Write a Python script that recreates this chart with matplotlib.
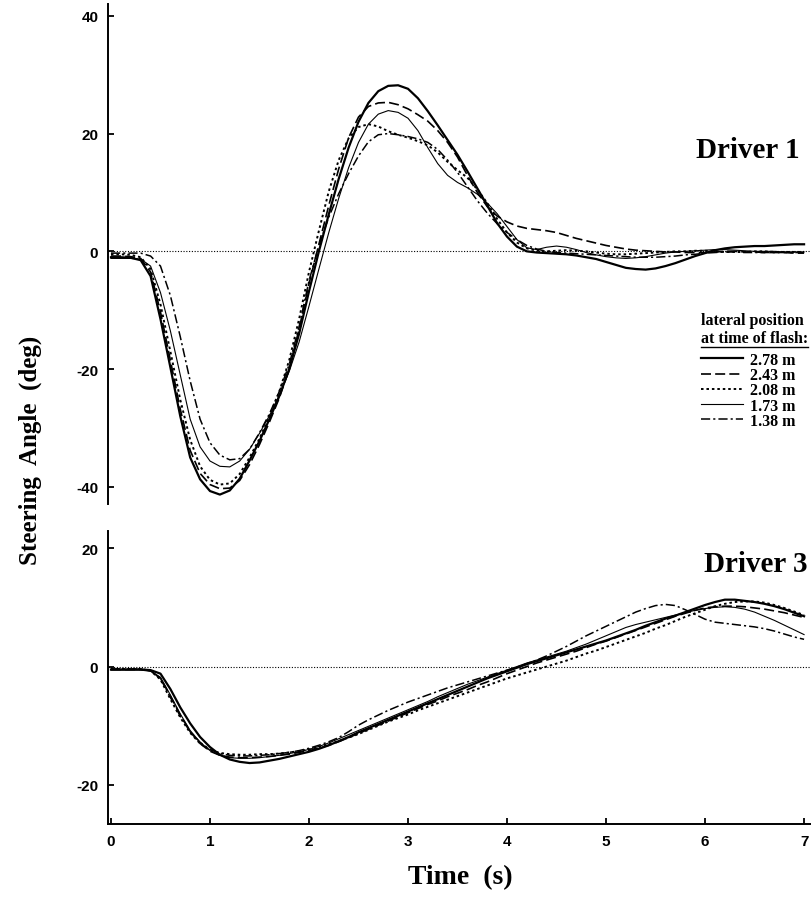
import matplotlib
matplotlib.use("Agg")
import matplotlib.pyplot as plt
from matplotlib.lines import Line2D

plt.rcParams["axes.unicode_minus"] = False

# time grid (s)
t = [0.0, 0.1, 0.2, 0.3, 0.4, 0.5, 0.6, 0.7, 0.8, 0.9,
     1.0, 1.1, 1.2, 1.3, 1.4, 1.5, 1.6, 1.7, 1.8, 1.9,
     2.0, 2.1, 2.2, 2.3, 2.4, 2.5, 2.6, 2.7, 2.8, 2.9,
     3.0, 3.1, 3.2, 3.3, 3.4, 3.5, 3.6, 3.7, 3.8, 3.9,
     4.0, 4.1, 4.2, 4.3, 4.4, 4.5, 4.6, 4.7, 4.8, 4.9,
     5.0, 5.1, 5.2, 5.3, 5.4, 5.5, 5.6, 5.7, 5.8, 5.9,
     6.0, 6.1, 6.2, 6.3, 6.4, 6.5, 6.6, 6.7, 6.8, 6.9,
     7.0]

labels = ["2.78 m", "2.43 m", "2.08 m", "1.73 m", "1.38 m"]

# Driver 1 steering angle (deg)
d1_278 = [-1.0, -1.0, -1.1, -1.5, -4.2, -11.5, -19.7, -28.0, -35.0, -38.7,
          -40.7, -41.3, -40.6, -38.6, -35.5, -32.2, -28.5, -24.6, -20.0, -14.0,
          -6.8, 0.0, 6.3, 12.3, 17.6, 22.0, 25.2, 27.2, 28.1, 28.2,
          27.6, 26.0, 23.8, 21.4, 18.9, 16.4, 13.6, 10.7, 7.8, 4.8,
          2.5, 0.8, 0.0, -0.2, -0.3, -0.4, -0.5, -0.7, -1.0, -1.3,
          -1.8, -2.3, -2.8, -3.0, -3.1, -2.9, -2.5, -2.0, -1.4, -0.8,
          -0.3, 0.2, 0.5, 0.7, 0.8, 0.9, 0.9, 1.0, 1.1, 1.2,
          1.2]
d1_243 = [-0.8, -0.8, -0.9, -1.2, -3.5, -10.3, -18.5, -26.8, -33.8, -37.7,
          -39.6, -40.3, -40.2, -38.9, -36.2, -32.8, -29.0, -24.9, -20.0, -13.2,
          -5.5, 1.2, 7.8, 14.0, 19.3, 22.8, 24.6, 25.2, 25.3, 24.9,
          24.2, 23.2, 22.1, 20.5, 18.5, 16.0, 12.9, 10.0, 7.6, 6.0,
          5.0, 4.3, 3.9, 3.7, 3.5, 3.2, 2.7, 2.2, 1.8, 1.4,
          1.0, 0.7, 0.4, 0.2, 0.1, 0.0, -0.1, -0.1, -0.2, -0.2,
          -0.2, -0.1, 0.0, 0.0, -0.1, -0.1, -0.2, -0.2, -0.2, -0.3,
          -0.3]
d1_208 = [-0.5, -0.5, -0.6, -1.0, -3.0, -9.0, -17.0, -25.2, -32.0, -36.5,
          -38.8, -39.6, -39.4, -37.8, -35.0, -31.8, -28.0, -23.8, -18.5, -11.5,
          -3.5, 3.5, 10.2, 15.5, 19.2, 21.1, 21.6, 21.2, 20.4, 19.8,
          19.3, 18.7, 18.0, 16.8, 15.2, 13.8, 12.5, 10.5, 8.2, 5.5,
          3.2, 1.5, 0.5, 0.1, 0.0, 0.1, 0.2, 0.1, 0.0, -0.2,
          -0.4, -0.5, -0.5, -0.4, -0.3, -0.2, -0.1, 0.0, 0.0, 0.1,
          0.1, 0.0, -0.1, -0.1, -0.1, 0.0, 0.0, -0.1, -0.1, -0.1,
          -0.1]
d1_173 = [-1.2, -1.2, -1.2, -1.3, -2.5, -7.0, -13.5, -21.0, -28.5, -33.2,
          -35.6, -36.5, -36.6, -35.6, -33.6, -30.9, -27.9, -24.4, -20.4, -15.4,
          -9.3, -3.0, 3.2, 9.0, 14.2, 18.5, 21.6, 23.3, 23.9, 23.6,
          22.6, 20.5, 17.6, 14.9, 12.9, 11.7, 10.8, 9.7, 8.2, 6.4,
          4.2, 2.0, 0.6, 0.3, 0.7, 0.9, 0.7, 0.3, -0.2, -0.6,
          -0.9, -1.1, -1.2, -1.1, -0.9, -0.6, -0.3, -0.1, 0.0, 0.1,
          0.2, 0.3, 0.3, 0.2, 0.1, 0.0, 0.0, 0.0, -0.1, -0.1,
          -0.1]
d1_138 = [-0.3, -0.3, -0.3, -0.3, -0.8, -2.5, -7.5, -14.5, -22.0, -28.5,
          -32.5, -34.6, -35.4, -35.2, -33.6, -30.8, -27.6, -23.8, -19.2, -12.8,
          -5.0, 1.0, 5.8, 9.8, 13.2, 16.2, 18.6, 19.8, 20.0, 19.8,
          19.5, 19.1, 18.5, 17.3, 15.5, 13.4, 11.0, 8.6, 6.5, 4.7,
          3.2, 2.0, 1.0, 0.4, 0.0, -0.2, -0.3, -0.4, -0.5, -0.6,
          -0.7, -0.8, -0.9, -1.0, -1.0, -1.0, -0.9, -0.8, -0.6, -0.5,
          -0.3, -0.2, -0.1, -0.1, -0.2, -0.2, -0.2, -0.2, -0.2, -0.2,
          -0.2]

# Driver 3 steering angle (deg)
d3_278 = [-0.5, -0.5, -0.5, -0.5, -0.6, -1.2, -3.8, -6.9, -9.6, -11.9,
          -13.6, -14.9, -15.7, -16.1, -16.3, -16.2, -15.9, -15.6, -15.2, -14.8,
          -14.4, -13.9, -13.3, -12.6, -11.9, -11.1, -10.4, -9.7, -9.0, -8.3,
          -7.6, -6.9, -6.2, -5.5, -4.8, -4.1, -3.4, -2.7, -2.0, -1.4,
          -0.8, -0.2, 0.4, 0.9, 1.4, 1.9, 2.4, 2.9, 3.4, 3.9,
          4.4, 5.0, 5.6, 6.2, 6.9, 7.5, 8.1, 8.6, 9.2, 9.8,
          10.4, 10.9, 11.3, 11.3, 11.1, 10.9, 10.6, 10.2, 9.7, 9.1,
          8.5]
d3_243 = [-0.5, -0.5, -0.5, -0.5, -0.7, -2.0, -5.0, -8.2, -11.0, -13.0,
          -14.3, -15.0, -15.3, -15.4, -15.4, -15.3, -15.2, -15.0, -14.8, -14.5,
          -14.2, -13.8, -13.3, -12.7, -12.0, -11.3, -10.6, -9.9, -9.2, -8.5,
          -7.8, -7.1, -6.4, -5.8, -5.1, -4.5, -3.9, -3.2, -2.6, -1.9,
          -1.2, -0.6, 0.0, 0.6, 1.1, 1.6, 2.1, 2.6, 3.2, 3.8,
          4.3, 4.9, 5.5, 6.1, 6.7, 7.3, 7.9, 8.5, 9.0, 9.5,
          9.9, 10.1, 10.2, 10.2, 10.1, 9.9, 9.7, 9.4, 9.1, 8.7,
          8.3]
d3_208 = [-0.4, -0.4, -0.4, -0.4, -0.7, -2.2, -5.5, -8.6, -11.2, -13.0,
          -14.1, -14.6, -14.8, -14.9, -14.9, -14.8, -14.8, -14.7, -14.5, -14.3,
          -14.0, -13.6, -13.1, -12.6, -12.0, -11.4, -10.7, -10.0, -9.3, -8.7,
          -8.1, -7.4, -6.8, -6.2, -5.6, -5.0, -4.4, -3.8, -3.2, -2.6,
          -2.0, -1.5, -1.0, -0.5, 0.0, 0.5, 1.0, 1.6, 2.2, 2.7,
          3.3, 3.9, 4.5, 5.1, 5.7, 6.4, 7.0, 7.7, 8.4, 9.0,
          9.6, 10.2, 10.6, 10.9, 11.0, 11.0, 10.8, 10.4, 9.9, 9.3,
          8.7]
d3_173 = [-0.6, -0.6, -0.6, -0.6, -0.8, -1.8, -4.8, -8.0, -10.8, -12.8,
          -14.2, -15.0, -15.4, -15.5, -15.5, -15.4, -15.2, -15.0, -14.7, -14.4,
          -14.0, -13.5, -12.9, -12.2, -11.5, -10.8, -10.1, -9.4, -8.7, -8.0,
          -7.3, -6.6, -5.9, -5.1, -4.4, -3.7, -3.0, -2.4, -1.8, -1.2,
          -0.6, 0.0, 0.6, 1.1, 1.6, 2.1, 2.6, 3.2, 3.8, 4.5,
          5.2, 5.9, 6.6, 7.1, 7.5, 7.9, 8.3, 8.7, 9.1, 9.5,
          9.8, 10.0, 10.1, 10.0, 9.7, 9.2, 8.5, 7.8, 7.0, 6.2,
          5.4]
d3_138 = [-0.4, -0.4, -0.4, -0.4, -0.7, -2.0, -5.2, -8.4, -11.0, -12.8,
          -14.0, -14.7, -15.0, -15.1, -15.1, -15.0, -14.9, -14.7, -14.5, -14.2,
          -13.8, -13.3, -12.7, -12.0, -11.0, -9.9, -9.0, -8.2, -7.4, -6.7,
          -6.0, -5.4, -4.8, -4.2, -3.6, -3.1, -2.6, -2.1, -1.6, -1.1,
          -0.6, -0.1, 0.5, 1.1, 1.8, 2.6, 3.4, 4.3, 5.2, 6.0,
          6.8, 7.6, 8.4, 9.2, 9.8, 10.3, 10.5, 10.3, 9.6, 8.8,
          8.0, 7.5, 7.3, 7.1, 6.9, 6.7, 6.4, 6.0, 5.5, 5.0,
          4.6]

styles = [
    dict(ls="-", lw=1.6),
    dict(ls=(0, (6, 2.5)), lw=1.2),
    dict(ls=(0, (1.3, 1.5)), lw=1.4),
    dict(ls="-", lw=0.8),
    dict(ls=(0, (6, 2, 1.4, 2)), lw=1.1),
]

serif = "Liberation Serif"
sans = "Liberation Sans"

fig = plt.figure(figsize=(8.11, 9.03), dpi=100)
ax1 = fig.add_axes([108 / 811, 398 / 903, 703 / 811, 500 / 903])
ax3 = fig.add_axes([108 / 811, 78 / 903, 703 / 811, 293 / 903])

lines = []
for y, st, lab in zip([d1_278, d1_243, d1_208, d1_173, d1_138], styles, labels):
    ln, = ax1.plot(t, y, color="black", label=lab, **st)
    lines.append(ln)
for y, st in zip([d3_278, d3_243, d3_208, d3_173, d3_138], styles):
    ax3.plot(t, y, color="black", **st)

ax1.set_ylim(-42.9, 42.0)
ax1.set_yticks([-40, -20, 0, 20, 40])
ax3.set_ylim(-26.6, 22.9)
ax3.set_yticks([-20, 0, 20])
ax3.set_xticks([0, 1, 2, 3, 4, 5, 6, 7])

for ax in (ax1, ax3):
    ax.set_xlim(-0.03, 7.07)
    ax.axhline(0, color="black", ls=(0, (1, 1.5)), lw=0.8)
    for s in ("top", "right"):
        ax.spines[s].set_visible(False)
    ax.spines["left"].set_linewidth(1.4)
    ax.spines["bottom"].set_linewidth(1.4)
    ax.tick_params(direction="in", length=4, width=1.3, pad=7, labelsize=11)
    for lab in ax.get_yticklabels() + ax.get_xticklabels():
        lab.set_fontfamily(sans)
        lab.set_fontweight("bold")

ax1.spines["bottom"].set_visible(False)
ax1.tick_params(axis="x", bottom=False, labelbottom=False)

fig.text(800 / 811, 1 - 158 / 903, "Driver 1", ha="right", va="baseline",
         fontsize=21, fontweight="bold", family=serif)
fig.text(808 / 811, 1 - 572 / 903, "Driver 3", ha="right", va="baseline",
         fontsize=21, fontweight="bold", family=serif)

fig.text(30 / 811, 1 - 450 / 903, "Steering  Angle  (deg)", rotation=90,
         ha="center", va="center", fontsize=18, fontweight="bold", family=serif)
fig.text(460 / 811, 1 - 878 / 903, "Time  (s)", ha="center", va="center",
         fontsize=20, fontweight="bold", family=serif)

# legend heading, second line underlined
head = fig.text(701 / 811, 1 - 313 / 903, "lateral position\nat time of flash:",
                ha="left", va="top", fontsize=11.5, fontweight="bold",
                family=serif, linespacing=1.15)
leg = ax1.legend(handles=lines, loc="upper left",
                 bbox_to_anchor=(701 / 811, 1 - 353 / 903),
                 bbox_transform=fig.transFigure, frameon=False,
                 prop=dict(family=serif, weight="bold", size=11.5),
                 handlelength=2.6, handletextpad=0.45, labelspacing=-0.05,
                 borderpad=0, borderaxespad=0)

fig.canvas.draw()
bb = head.get_window_extent().transformed(fig.transFigure.inverted())
fig.add_artist(Line2D([bb.x0, bb.x1], [bb.y0 - 0.001, bb.y0 - 0.001],
                      transform=fig.transFigure, color="black", lw=1.0))

fig.savefig("out.png", dpi=100)
